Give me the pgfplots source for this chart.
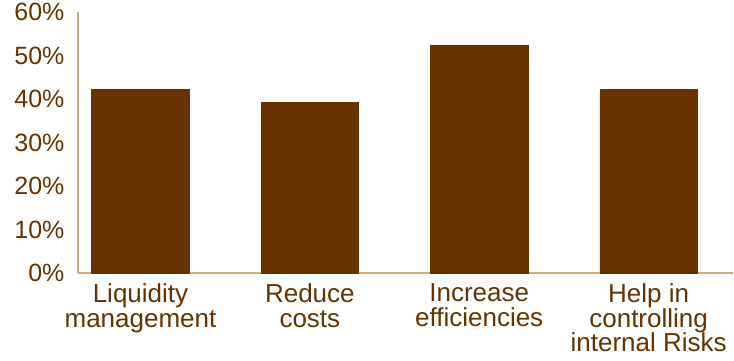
\documentclass[border=0pt]{standalone}
\usepackage{pgfplots}
\pgfplotsset{compat=1.18}
\usepackage{fontspec}
\setmainfont{Liberation Sans}
\definecolor{barbrown}{HTML}{663300}
\definecolor{axistan}{RGB}{208,172,122}
\begin{document}
\begin{tikzpicture}[x=1pt,y=1pt]
\begin{axis}[
  at={(0,0)}, anchor=south west,
  scale only axis, width=655pt, height=261pt,
  xmin=-0.369, xmax=3.496, ymin=0, ymax=60,
  axis x line*=bottom, axis y line*=left,
  every outer x axis line/.append style={axistan, line width=2.8pt},
  every outer y axis line/.append style={axistan, line width=2.8pt},
  axis line style={axistan, line width=2.8pt},
  clip=false,
  ybar, bar width=97.6pt,
  xtick={0,1,2,3},
  xticklabels={{Liquidity\\management},{Reduce\\costs},{Increase\\efficiencies},{Help in\\controlling\\internal Risks}},
  xticklabel style={align=center, font=\fontsize{26}{24.4}\selectfont, text=barbrown, yshift=-7.5pt},
  ytick={0,10,20,30,40,50,60},
  yticklabels={0\%,10\%,20\%,30\%,40\%,50\%,60\%},
  yticklabel style={font=\fontsize{25}{25}\selectfont, text=barbrown, xshift=-10pt},
  major tick length=0pt, tick style={draw=none},
]
\addplot[fill=barbrown, draw=barbrown] coordinates {(0,42.2) (1,39.2) (2,52.3) (3,42.2)};
\end{axis}
\path (-78,-88) rectangle (656,273);
\end{tikzpicture}
\end{document}
